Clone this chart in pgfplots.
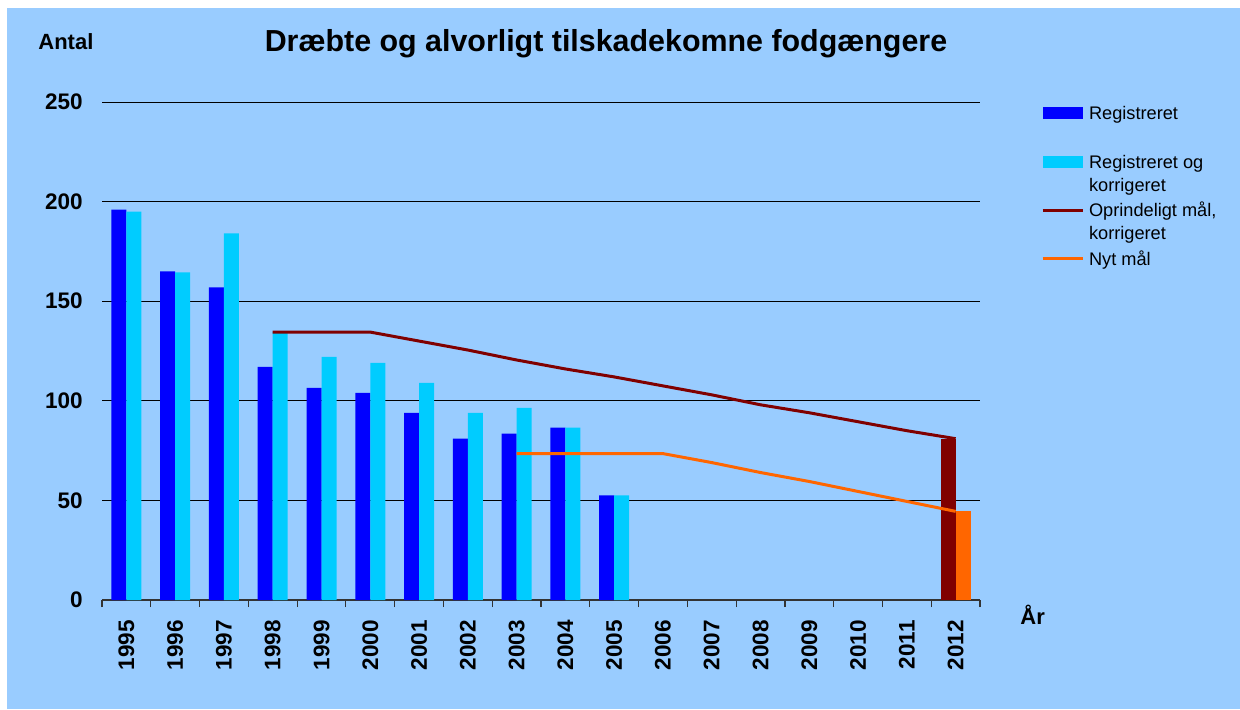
\documentclass[border=0pt]{standalone}
\usepackage{fontspec}
\setmainfont{Liberation Sans}
\usepackage{pgfplots}
\pgfplotsset{compat=1.18}

\definecolor{bgblue}{HTML}{99CCFF}
\definecolor{regblue}{HTML}{0000FF}
\definecolor{korcyan}{HTML}{00CCFF}
\definecolor{maalred}{HTML}{800000}
\definecolor{nytorange}{HTML}{FF6600}

\begin{document}
\begin{tikzpicture}
\useasboundingbox (0,0) rectangle (620pt,-354.5pt);
\fill[bgblue] (3.5pt,-4pt) rectangle (620pt,-354.5pt);
\begin{axis}[
    at={(51pt,-300pt)}, anchor=south west,
    scale only axis, width=439pt, height=249pt,
    xmin=-0.5, xmax=17.5, ymin=0, ymax=250,
    axis x line*=bottom, axis y line*=left,
    y axis line style={draw=none},
    x axis line style={black!80, line width=0.7pt},
    ytick={0,50,100,150,200,250},
    yticklabels={0,50,100,150,200,250},
    ymajorgrids, grid style={black, line width=0.5pt},
    xtick={0,...,17},
    xticklabels={1995,1996,1997,1998,1999,2000,2001,2002,2003,2004,2005,2006,2007,2008,2009,2010,2011,2012},
    minor xtick={-0.5,0.5,...,17.5},
    tick align=outside, major tick length=0pt, minor tick length=3.5pt,
    every tick/.style={black!80, line width=0.6pt},
    xticklabel style={font=\fontsize{11.25}{13.5}\bfseries, yshift=-10pt, rotate=90, anchor=east, inner sep=0pt},
    yticklabel style={font=\fontsize{11.25}{13.5}\bfseries, anchor=east, inner sep=0pt, xshift=-9.5pt},
    title={Dræbte og alvorligt tilskadekomne fodgængere},
    every axis title/.style={at={(axis description cs:0.574,1.1024)}, anchor=base, inner sep=0pt,
                 font=\fontsize{15.2}{18}\bfseries},
    ylabel={Antal},
    every axis y label/.style={at={(axis description cs:-0.0729,1.1064)}, anchor=base west,
                 inner sep=0pt, font=\fontsize{11}{13}\bfseries},
    xlabel={År},
    every axis x label/.style={at={(axis description cs:1.0456,-0.0482)}, anchor=base west,
                 inner sep=0pt, font=\fontsize{11}{13}\bfseries},
    legend cell align=left,
    legend style={draw=none, fill=none, at={(axis description cs:1.0695,0.997)},
                  anchor=north west, inner sep=0pt, outer sep=0pt,
                  row sep=3.2pt, column sep=2.5pt,
                  font=\fontsize{9.1}{11.5}\selectfont,
                  nodes={inner sep=0pt, align=left}},
]
% registreret
\addplot[ybar, bar width=7.5pt, bar shift=-3.75pt, fill=regblue, draw=none,
    legend image code/.code={\fill[regblue] (0pt,2.75pt) rectangle (20pt,8.75pt);}]
    coordinates {(0,196) (1,165) (2,157) (3,117) (4,106.5) (5,104) (6,94) (7,81) (8,83.5) (9,86.5) (10,52.5)};
\addlegendentry{\strut Registreret\\\strut}

% registreret og korrigeret
\addplot[ybar, bar width=7.5pt, bar shift=3.75pt, fill=korcyan, draw=none,
    legend image code/.code={\fill[korcyan] (0pt,2.75pt) rectangle (20pt,8.75pt);}]
    coordinates {(0,195) (1,164.5) (2,184) (3,134.5) (4,122) (5,119) (6,109) (7,94) (8,96.5) (9,86.5) (10,52.5)};
\addlegendentry{\strut Registreret og\\\strut korrigeret}

% maal 2012
\addplot[ybar, bar width=7.5pt, bar shift=-3.75pt, fill=maalred, draw=none, forget plot]
    coordinates {(17,81)};
\addplot[ybar, bar width=7.5pt, bar shift=3.75pt, fill=nytorange, draw=none, forget plot]
    coordinates {(17,44.5)};

% oprindeligt maal
\addplot[maalred, line width=1.5pt, no marks,
    legend image code/.code={\draw[maalred, line width=1.5pt] (0pt,5.75pt) -- (20pt,5.75pt);}]
    coordinates {(3,134.5) (4,134.5) (5,134.5) (6,130) (7,125.5) (8,120.5) (9,116) (10,112)
                 (11,107.5) (12,103) (13,98) (14,94) (15,89.5) (16,85) (17,81)};
\addlegendentry{\strut Oprindeligt mål,\\\strut korrigeret}

% nyt maal
\addplot[nytorange, line width=1.5pt, no marks,
    legend image code/.code={\draw[nytorange, line width=1.5pt] (0pt,0pt) -- (20pt,0pt);}]
    coordinates {(8,73.5) (9,73.5) (10,73.5) (11,73.5) (12,69) (13,64) (14,59.5) (15,54.5) (16,49.5) (17,44.5)};
\addlegendentry{\strut Nyt mål}
\end{axis}
\end{tikzpicture}
\end{document}
